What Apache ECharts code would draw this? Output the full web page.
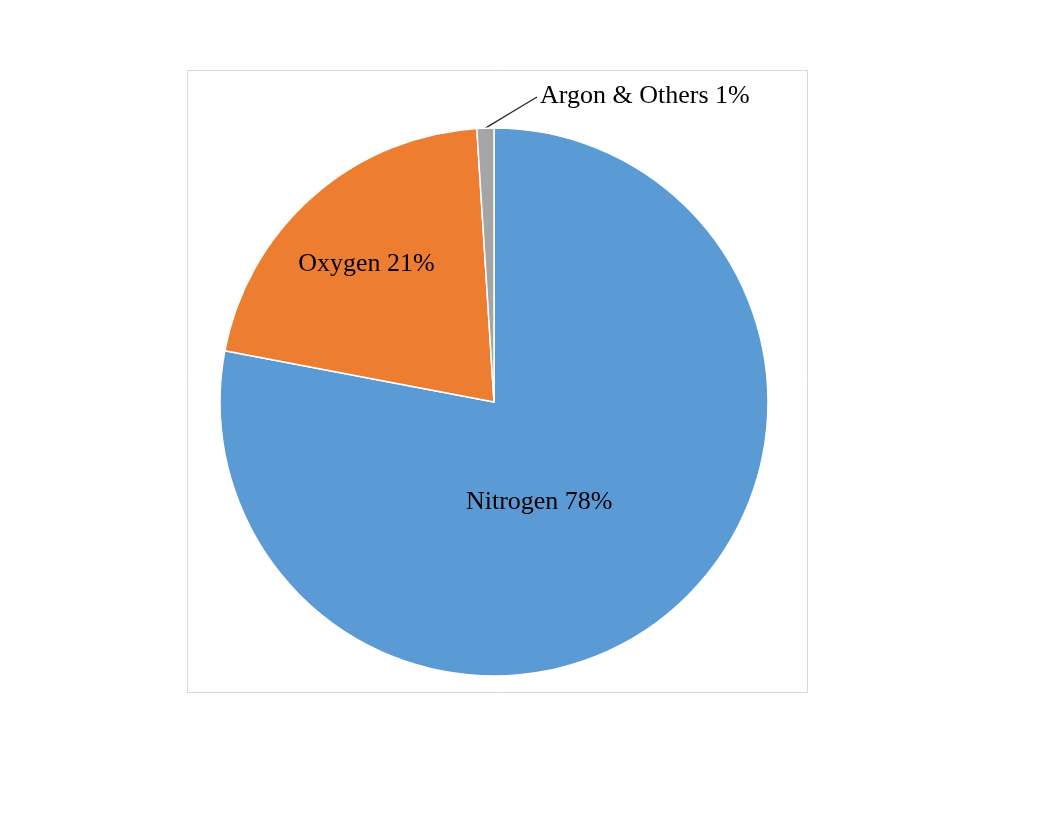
<!DOCTYPE html>
<html>
<head>
<meta charset="utf-8">
<script src="https://cdn.jsdelivr.net/npm/echarts@6/dist/echarts.min.js"></script>
<style>
html,body{margin:0;padding:0;background:#fff;}
#chart{width:1056px;height:816px;}
</style>
</head>
<body>
<div id="chart"></div>
<script>
const categories = ['Nitrogen', 'Oxygen', 'Argon & Others'];
const values = [78, 21, 1];
const colors = ['#5B9BD5', '#ED7D31', '#A5A5A5'];

const chart = echarts.init(document.getElementById('chart'), null, {renderer: 'canvas'});

const labelAdjust = {
  'Nitrogen': {dx: -44, dy: -8},
  'Oxygen': {dx: -35, dy: -33}
};

chart.setOption({
  backgroundColor: '#ffffff',
  animation: false,
  graphic: [{
    type: 'rect',
    left: 185, top: 68,
    shape: {width: 620, height: 622},
    style: {fill: 'none', stroke: '#d9d9d9', lineWidth: 1},
    silent: true
  }],
  series: [{
    type: 'pie',
    center: [494, 402],
    radius: 274,
    startAngle: 90,
    clockwise: true,
    avoidLabelOverlap: false,
    itemStyle: {borderColor: '#ffffff', borderWidth: 1.5},
    label: {
      show: true,
      position: 'inside',
      formatter: '{b} {c}%',
      color: '#000',
      fontFamily: '"Liberation Serif", "Times New Roman", serif',
      fontSize: 26
    },
    labelLine: {show: false},
    labelLayout: function (params) {
      const name = categories[params.dataIndex];
      if (name === 'Argon & Others') {
        const p0 = params.labelLinePoints ? params.labelLinePoints[0] : [489, 127];
        const end = [537, 97];
        const mid = [(p0[0] + end[0]) / 2, (p0[1] + end[1]) / 2];
        return {x: 540, y: 96, align: 'left', verticalAlign: 'middle', labelLinePoints: [p0, mid, end]};
      }
      return labelAdjust[name] || {};
    },
    data: categories.map((c, i) => {
      const d = {name: c, value: values[i], itemStyle: {color: colors[i]}};
      if (c === 'Argon & Others') {
        d.label = {position: 'outside'};
        d.labelLine = {show: true, length: 20, length2: 10, lineStyle: {color: '#222', width: 1.3}};
      }
      return d;
    })
  }]
});
</script>
</body>
</html>
